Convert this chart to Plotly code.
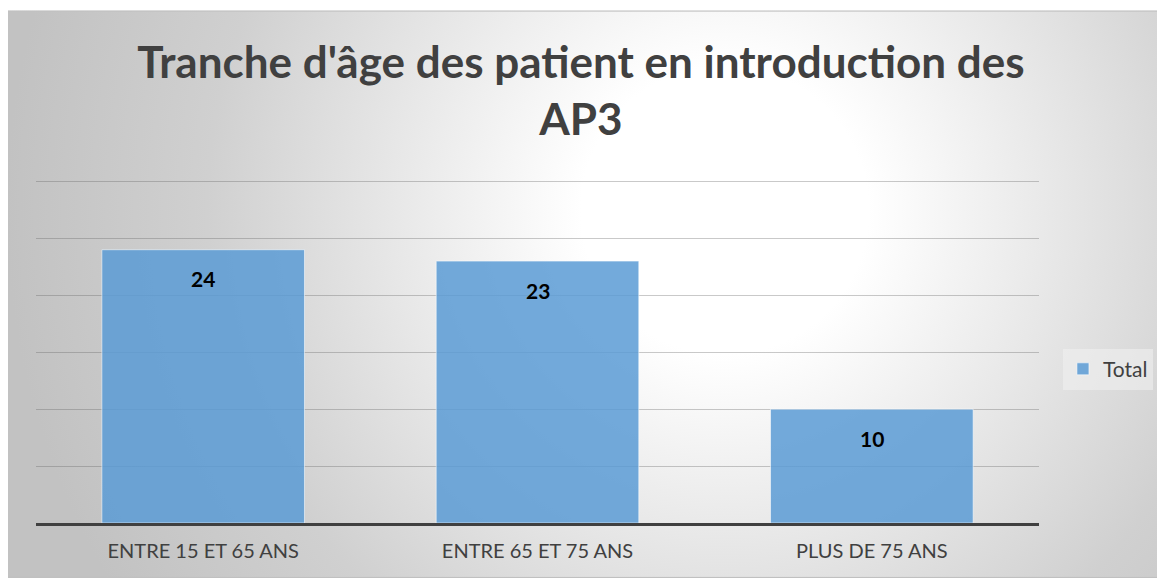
import base64
import plotly.graph_objects as go

categories = ["ENTRE 15 ET 65 ANS", "ENTRE 65 ET 75 ANS", "PLUS DE 75 ANS"]
values = [24, 23, 10]
series_name = "Total"
title_text = "Tranche d'âge des patient en introduction des<br>AP3"

OFF = 8  # default page body margin
PAGE_W, PAGE_H = 1165, 578
W, H = PAGE_W - OFF, PAGE_H - OFF
Y_MAX = 30.3
UNIT_PX = 342 / 30
# plot area in page pixels
PL, PR, PB = 36, 1041, 523
PT = PB - UNIT_PX * Y_MAX
L, T = PL - OFF, PT - OFF
R = W - (PR - OFF)
B = H - (PB - OFF)
plot_w = PR - PL
plot_h = PB - PT

def px_x(p):
    return (p - PL) / plot_w

def px_y(p):
    return (PB - p) / plot_h

svg = '''<svg xmlns="http://www.w3.org/2000/svg" width="1159" height="568" viewBox="0 0 1159 568" preserveAspectRatio="none">
<defs><radialGradient id="g" gradientUnits="userSpaceOnUse" cx="720" cy="200" r="720">
<stop offset="0" stop-color="#ffffff"/>
<stop offset="0.2" stop-color="#ffffff"/>
<stop offset="0.72" stop-color="#d0d0d0"/>
<stop offset="1" stop-color="#c2c2c2"/>
</radialGradient></defs>
<rect x="0" y="0" width="1159" height="568" fill="url(#g)" stroke="#c0c0c0" stroke-width="2"/>
</svg>'''
src = "data:image/svg+xml;base64," + base64.b64encode(svg.encode()).decode()

fig = go.Figure()
fig.add_trace(go.Bar(
    x=categories, y=values, name=series_name,
    marker=dict(color="rgba(91,155,213,0.85)", line=dict(color="rgba(255,255,255,0.55)", width=1)),
    width=0.606, showlegend=True,
))

for c, v in zip(categories, values):
    fig.add_annotation(x=c, y=v, text=f"<b>{v}</b>", showarrow=False, yshift=-29,
                       font=dict(family="Lato", size=21, color="#000000"))

fig.add_layout_image(dict(source=src, xref="paper", yref="paper",
                          x=px_x(6), y=px_y(10), sizex=px_x(PAGE_W) - px_x(6), sizey=px_y(10) - px_y(PAGE_H),
                          xanchor="left", yanchor="top", sizing="stretch", layer="below"))

fig.update_layout(
    width=W, height=H,
    margin=dict(l=L, r=R, t=T, b=B),
    paper_bgcolor="#ffffff",
    plot_bgcolor="rgba(0,0,0,0)",
    title=dict(text=f"<b>{title_text}</b>", x=px_x(582), xref="paper", xanchor="center",
               y=1 - 70 / H, yanchor="middle",
               font=dict(family="Lato", size=44, color="#404040")),
    xaxis=dict(showgrid=False, tickfont=dict(family="Lato", size=20, color="#404040"),
               ticks="", ticklabelstandoff=8, showline=True, linecolor="#404040", linewidth=3),
    yaxis=dict(range=[0, Y_MAX], tick0=0, dtick=5, showticklabels=False, showgrid=True,
               gridcolor="rgba(100,100,100,0.35)", gridwidth=1, zeroline=False),
    legend=dict(x=px_x(1065), y=px_y(369), xanchor="left", yanchor="middle",
                bgcolor="rgba(240,240,240,0.6)", font=dict(family="Lato", size=21, color="#404040"),
                itemwidth=30),
    bargap=0.394,
)

fig.write_html("out.html")
